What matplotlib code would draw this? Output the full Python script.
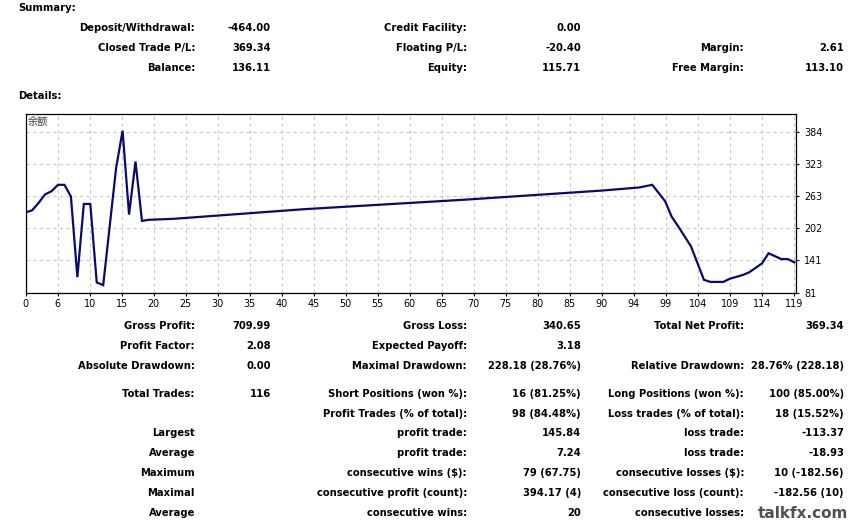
import numpy as np
import matplotlib
matplotlib.use('Agg')
import matplotlib.pyplot as plt

# balance curve (trade number, balance)
trade_no = [0, 1, 2, 3, 4, 5, 6, 7, 8, 9, 10, 11, 12, 14, 15, 16, 17, 18, 19, 23,
            43, 68, 89, 95, 97, 99, 100, 101, 103, 105, 106, 108, 109, 111, 112,
            114, 115, 117, 118, 119]
balance = [232, 236, 250, 266, 272, 284, 284, 262, 110, 248, 248, 100, 95, 316,
           386, 228, 328, 216, 218, 220, 238, 256, 273, 279, 284, 253, 224, 206,
           168, 105, 101, 101, 107, 114, 119, 136, 155, 144, 144, 138]

xtick_labels = ["0", "6", "10", "15", "20", "25", "30", "35", "40", "45", "50",
                "55", "60", "65", "70", "75", "80", "85", "90", "94", "99", "104",
                "109", "114", "119"]
ytick_vals = [80.7, 141.4, 202.0, 262.7, 323.3, 384.0]
ytick_labels = ["81", "141", "202", "263", "323", "384"]

summary = [
    ("Deposit/Withdrawal:", "-464.00", "Credit Facility:", "0.00", "", ""),
    ("Closed Trade P/L:", "369.34", "Floating P/L:", "-20.40", "Margin:", "2.61"),
    ("Balance:", "136.11", "Equity:", "115.71", "Free Margin:", "113.10"),
]
details = [
    ("Gross Profit:", "709.99", "Gross Loss:", "340.65", "Total Net Profit:", "369.34"),
    ("Profit Factor:", "2.08", "Expected Payoff:", "3.18", "", ""),
    ("Absolute Drawdown:", "0.00", "Maximal Drawdown:", "228.18 (28.76%)", "Relative Drawdown:", "28.76% (228.18)"),
    ("Total Trades:", "116", "Short Positions (won %):", "16 (81.25%)", "Long Positions (won %):", "100 (85.00%)"),
    ("", "", "Profit Trades (% of total):", "98 (84.48%)", "Loss trades (% of total):", "18 (15.52%)"),
    ("Largest", "", "profit trade:", "145.84", "loss trade:", "-113.37"),
    ("Average", "", "profit trade:", "7.24", "loss trade:", "-18.93"),
    ("Maximum", "", "consecutive wins ($):", "79 (67.75)", "consecutive losses ($):", "10 (-182.56)"),
    ("Maximal", "", "consecutive profit (count):", "394.17 (4)", "consecutive loss (count):", "-182.56 (10)"),
    ("Average", "", "consecutive wins:", "20", "consecutive losses:", ""),
]

W, H = 864, 525
fig = plt.figure(figsize=(W / 100, H / 100), dpi=100)
fig.patch.set_facecolor('white')

FS = 7.2
col_x = [195, 271, 467, 581, 744, 844]


def put(x, y, s, ha='right', **kw):
    kw.setdefault('fontsize', FS)
    kw.setdefault('fontweight', 'bold')
    fig.text(x / W, 1 - y / H, s, ha=ha, va='center', family='DejaVu Sans', **kw)


put(18, 8, "Summary:", ha='left')
put(18, 96, "Details:", ha='left')
for row, y in zip(summary, [28, 48, 68]):
    for cx, s in zip(col_x, row):
        if s:
            put(cx, y, s)

detail_y = [326, 346, 366, 394, 414, 433, 453, 473, 493, 513]
for row, y in zip(details, detail_y):
    for cx, s in zip(col_x, row):
        if s:
            put(cx, y, s)

# chart
left, top, right, bottom = 25.7, 114.3, 796.3, 292.7
ax = fig.add_axes([left / W, 1 - bottom / H, (right - left) / W, (bottom - top) / H])
ax.plot(trade_no, balance, color='#0a0a6e', lw=1.6, solid_joinstyle='miter')

xmax = 119.3
step = (32 / (right - left)) * xmax
ax.set_xlim(0, xmax)
ax.set_ylim(80.7, 416.9)
ax.set_xticks([i * step for i in range(len(xtick_labels))])
ax.set_xticklabels(xtick_labels)
ax.yaxis.tick_right()
ax.set_yticks(ytick_vals)
ax.set_yticklabels(ytick_labels)
ax.tick_params(axis='both', length=2.5, width=0.8, color='black', labelsize=6.9,
               pad=2, labelcolor='black')
ax.tick_params(axis='y', pad=3)
ax.grid(True, color='#c8c8c8', linestyle=(0, (3, 3)), lw=0.8)
for sp in ax.spines.values():
    sp.set_color('black')
    sp.set_linewidth(0.9)
ax.text(2.5 / (right - left), 0.952, "余额", transform=ax.transAxes,
        fontsize=7.3, family=['Noto Sans CJK SC', 'DejaVu Sans'],
        color='#333333', ha='left', va='center')

# watermark
fig.text(803 / W, 1 - 514 / H, "talkfx.com", ha='center', va='center',
         fontsize=11, fontweight='bold', color='#505050', family='DejaVu Sans')

plt.savefig('out.png', dpi=100)
